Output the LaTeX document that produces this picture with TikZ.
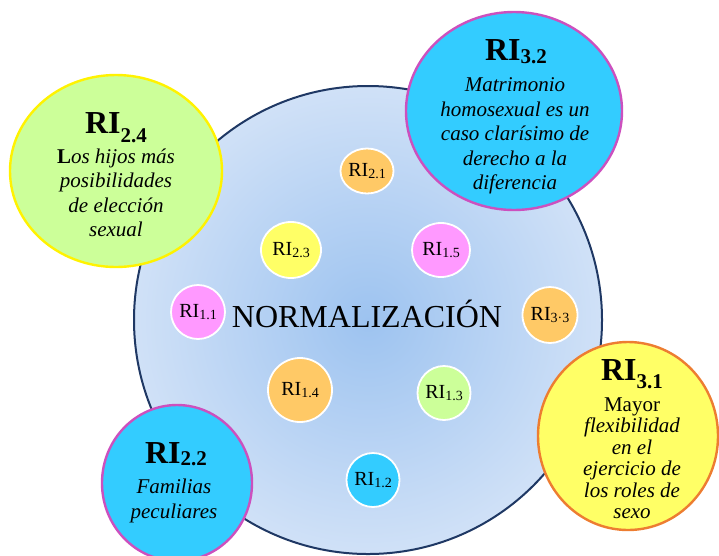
\documentclass[tikz,border=0pt]{standalone}
\usepackage{fontspec}
\setmainfont{Liberation Serif}
\usetikzlibrary{shapes.geometric}
\definecolor{naranja}{RGB}{255,201,102}
\definecolor{amarillo}{RGB}{255,255,102}
\definecolor{rosa}{RGB}{255,153,255}
\definecolor{verde}{RGB}{204,255,153}
\definecolor{cian}{RGB}{51,204,255}
\definecolor{lila}{RGB}{204,80,190}
\definecolor{marino}{RGB}{31,56,100}
\definecolor{naranjaosc}{RGB}{237,125,49}
\definecolor{centro}{RGB}{157,195,240}
\definecolor{orilla}{RGB}{208,225,247}
\newcommand{\bajo}[3]{\raisebox{-#1pt}{\fontsize{#2}{#2}\selectfont #3}}

\begin{document}
\begin{tikzpicture}[x=1pt, y=-1pt, line join=round, line cap=round,
		chico/.style={ellipse, draw=white, line width=1.8pt, inner sep=0pt, font=\fontsize{20}{20}\selectfont},
		grande/.style={ellipse, line width=2.4pt, inner sep=0pt},
		cabeza/.style={anchor=base, font=\bfseries\fontsize{32}{32}\selectfont},
		cuerpo/.style={align=center, font=\itshape\fontsize{21}{24.5}\selectfont}]
	\useasboundingbox (0,0) rectangle (719,555);
	% circulo central
	\shade[inner color=centro, outer color=orilla] (368,320) circle (234);
	\draw[marino, line width=2pt] (368,320) circle (234);
	\node[font=\fontsize{32}{32}\selectfont, anchor=base] (norm) at (367,327) {NORMALIZACIÓN};
	% circulos chicos
	\foreach \n/\x/\y/\w/\h/\c/\s in {21/367/171/50/45/naranja/2.1, 23/291/250/60/56/amarillo/2.3,
		15/441/250/58/54/rosa/1.5, 11/198/312/54/54/rosa/1.1, 33/550/315/55/56/naranja/3·3,
		14/300/390/64/64/naranja/1.4, 13/444/393/50/54/verde/1.3, 12/373/480/52/54/cian/1.2}
	\node[chico, fill=\c, minimum width=\w pt, minimum height=\h pt] (r\n) at (\x,\y) {RI\bajo{2}{14}{\s}};
	% RI 2.4
	\node[grande, draw=yellow, fill=verde, minimum width=212pt, minimum height=192pt] (g24) at (116,171) {};
	\node[cabeza] (h24) at (116,133) {RI\bajo{9}{21}{2.4}};
	\node[cuerpo] (t24) at (116,193) {\textbf{\upshape L}os hijos más\\posibilidades\\de elección\\sexual};
	% RI 3.2
	\node[grande, draw=lila, fill=cian, minimum width=216pt, minimum height=198pt] (g32) at (514,111) {};
	\node[cabeza] (h32) at (516,60) {RI\bajo{3}{21}{3.2}};
	\node[cuerpo] (t32) at (515,136) {Matrimonio\\homosexual es un\\caso clarísimo de\\derecho a la\\diferencia};
	% RI 3.1
	\node[grande, draw=naranjaosc, fill=amarillo, minimum width=180pt, minimum height=188pt] (g31) at (628,436) {};
	\node[cabeza] (h31) at (632,380) {RI\bajo{8}{21}{3.1}};
	\node[cuerpo, font=\itshape\fontsize{21}{21.5}\selectfont] (t31) at (632,458) {{\upshape Mayor}\\flexibilidad\\en el\\ejercicio de\\los roles de\\sexo};
	% RI 2.2
	\node[grande, draw=lila, fill=cian, minimum width=150pt, minimum height=156pt] (g22) at (177,483) {};
	\node[cabeza] (h22) at (176,463) {RI\bajo{2}{21}{2.2}};
	\node[cuerpo] (t22) at (174,501) {Familias\\peculiares};
\end{tikzpicture}
\end{document}
